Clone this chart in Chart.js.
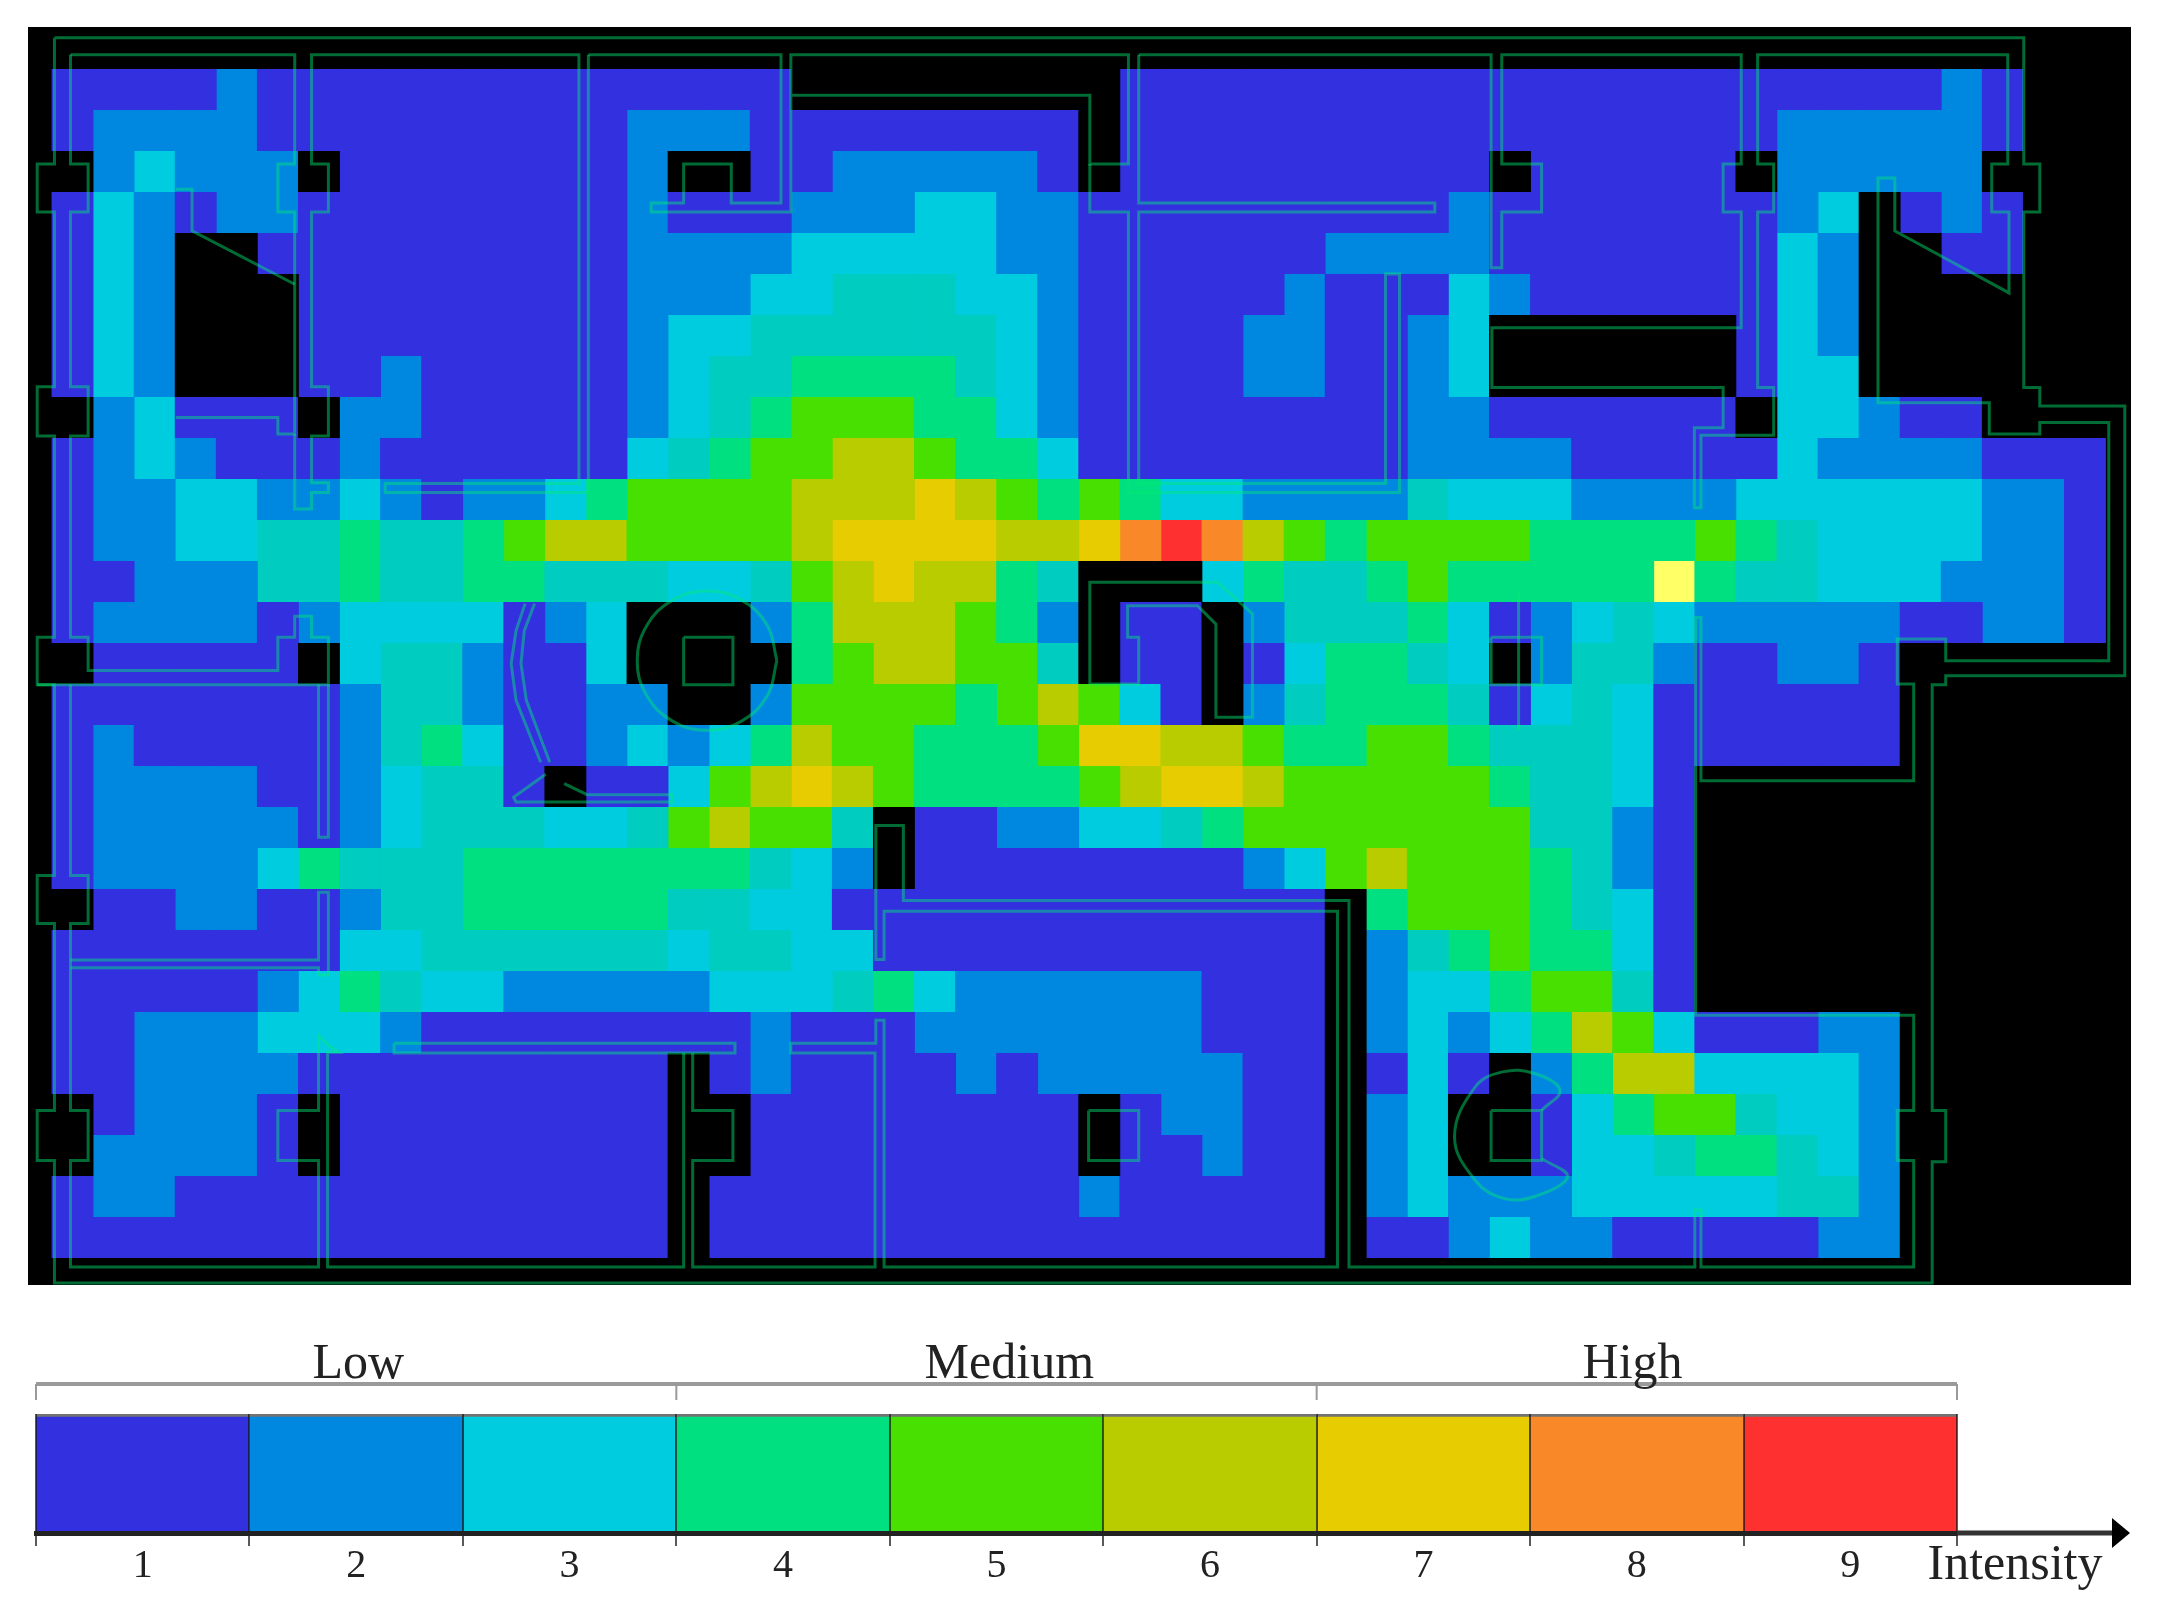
<!DOCTYPE html>
<html>
<head>
<meta charset="utf-8">
<title>Intensity map</title>
<script src="https://cdn.jsdelivr.net/npm/chart.js@4"></script>
<style>
  html, body { margin: 0; padding: 0; background: #fff; width: 2166px; height: 1605px; overflow: hidden; }
  canvas { position: absolute; filter: blur(0.7px); }
  #mapChart { left: 28px; top: 27px; background: #000; }
  #scaleChart { left: 0; top: 1290px; }
</style>
</head>
<body>
<canvas id="mapChart" width="2103" height="1258"></canvas>
<canvas id="scaleChart" width="2166" height="315"></canvas>
<script>
// T = the teal step between 3 and 4, Y = the single pale yellow hot spot, 0 = no signal
const T = 3.5, Y = 10;

const row00 = [1,1,1,1,2,1,1,1,1,1, 1,1,1,1,1,1,1,1,0,0, 0,0,0,0,0,0,1,1,1,1, 1,1,1,1,1,1,1,1,1,1, 1,1,1,1,1,1,2,1,0,0];
const row01 = [1,2,2,2,2,1,1,1,1,1, 1,1,1,1,2,2,2,1,1,1, 1,1,1,1,1,0,1,1,1,1, 1,1,1,1,1,1,1,1,1,1, 1,1,2,2,2,2,2,1,0,0];
const row02 = [0,2,3,2,2,2,0,1,1,1, 1,1,1,1,2,0,0,1,1,2, 2,2,2,2,1,0,1,1,1,1, 1,1,1,1,1,0,1,1,1,1, 1,0,2,2,2,2,2,0,0,0];
const row03 = [1,3,2,1,2,2,1,1,1,1, 1,1,1,1,2,1,1,1,2,2, 2,3,3,2,2,1,1,1,1,1, 1,1,1,1,2,1,1,1,1,1, 1,1,2,3,0,1,2,1,0,0];
const row04 = [1,3,2,0,0,1,1,1,1,1, 1,1,1,1,2,2,2,2,3,3, 3,3,3,2,2,1,1,1,1,1, 1,2,2,2,2,1,1,1,1,1, 1,1,3,2,0,0,1,1,0,0];
const row05 = [1,3,2,0,0,0,1,1,1,1, 1,1,1,1,2,2,2,3,3,T, T,T,3,3,2,1,1,1,1,1, 2,1,1,1,3,2,1,1,1,1, 1,1,3,2,0,0,0,0,0,0];
const row06 = [1,3,2,0,0,0,1,1,1,1, 1,1,1,1,2,3,3,T,T,T, T,T,T,3,2,1,1,1,1,2, 2,1,1,2,3,0,0,0,0,0, 0,1,3,2,0,0,0,0,0,0];
const row07 = [1,3,2,0,0,0,1,1,2,1, 1,1,1,1,2,3,T,T,4,4, 4,4,T,3,2,1,1,1,1,2, 2,1,1,2,3,0,0,0,0,0, 0,1,3,3,0,0,0,0,0,0];
const row08 = [0,2,3,1,1,1,0,2,2,1, 1,1,1,1,2,3,T,4,5,5, 5,4,4,3,2,1,1,1,1,1, 1,1,1,2,2,1,1,1,1,1, 1,0,3,3,2,1,1,0,0,0];
const row09 = [1,2,3,2,1,1,1,2,1,1, 1,1,1,1,3,T,4,5,5,6, 6,5,4,4,3,1,1,1,1,1, 1,1,1,2,2,2,2,1,1,1, 1,1,3,2,2,2,2,1,1,1];
const row10 = [1,2,2,3,3,2,2,3,2,1, 2,2,3,4,5,5,5,5,6,6, 6,7,6,5,4,5,4,3,3,2, 2,2,2,T,3,3,3,2,2,2, 2,3,3,3,3,3,3,2,2,1];
const row11 = [1,2,2,3,3,T,T,4,T,T, 4,5,6,6,5,5,5,5,6,7, 7,7,7,6,6,7,8,9,8,6, 5,4,5,5,5,5,4,4,4,4, 5,4,T,3,3,3,3,2,2,1];
const row12 = [1,1,2,2,2,T,T,4,T,T, 4,4,T,T,T,3,3,T,5,6, 7,6,6,4,T,0,0,0,3,4, T,T,4,5,4,4,4,4,4,Y, 4,T,T,3,3,3,2,2,2,1];
const row13 = [1,2,2,2,2,1,2,3,3,3, 3,1,2,3,0,0,0,2,4,6, 6,6,5,4,2,0,1,1,0,2, T,T,T,4,3,1,2,3,T,3, 2,2,2,2,2,1,1,2,2,1];
const row14 = [0,1,1,1,1,1,0,3,T,T, 2,1,1,3,0,0,0,0,4,5, 6,6,5,5,T,0,1,1,0,1, 3,4,4,T,3,0,2,T,T,2, 1,1,2,2,1,0,0,0,0,0];
const row15 = [1,1,1,1,1,1,1,2,T,T, 2,1,1,2,2,0,0,2,5,5, 5,5,4,5,6,5,3,1,0,2, T,4,4,4,T,1,3,T,3,1, 1,1,1,1,1,0,0,0,0,0];
const row16 = [1,2,1,1,1,1,1,2,T,4, 3,1,1,2,3,2,3,4,6,5, 5,4,4,4,5,7,7,6,6,5, 4,4,5,5,4,T,T,T,3,1, 1,1,1,1,1,0,0,0,0,0];
const row17 = [1,2,2,2,2,1,1,2,3,T, T,1,0,1,1,3,5,6,7,6, 5,4,4,4,4,5,6,7,7,6, 5,5,5,5,5,4,T,T,3,1, 0,0,0,0,0,0,0,0,0,0];
const row18 = [1,2,2,2,2,2,1,2,3,T, T,T,3,3,T,5,6,5,5,T, 0,1,1,2,2,3,3,T,4,5, 5,5,5,5,5,5,T,T,2,1, 0,0,0,0,0,0,0,0,0,0];
const row19 = [1,2,2,2,2,3,4,T,T,T, 4,4,4,4,4,4,4,T,3,2, 0,1,1,1,1,1,1,1,1,2, 3,5,6,5,5,5,4,T,2,1, 0,0,0,0,0,0,0,0,0,0];
const row20 = [0,1,1,2,2,1,1,2,T,T, 4,4,4,4,4,T,T,3,3,1, 1,1,1,1,1,1,1,1,1,1, 1,0,4,5,5,5,4,T,3,1, 0,0,0,0,0,0,0,0,0,0];
const row21 = [1,1,1,1,1,1,1,3,3,T, T,T,T,T,T,3,T,T,3,3, 1,1,1,1,1,1,1,1,1,1, 1,0,2,T,4,5,4,4,3,1, 0,0,0,0,0,0,0,0,0,0];
const row22 = [1,1,1,1,1,2,3,4,T,3, 3,2,2,2,2,2,3,3,3,T, 4,3,2,2,2,2,2,2,1,1, 1,0,2,3,3,4,5,5,T,1, 0,0,0,0,0,0,0,0,0,0];
const row23 = [1,1,2,2,2,3,3,3,2,1, 1,1,1,1,1,1,1,2,1,1, 1,2,2,2,2,2,2,2,1,1, 1,0,2,3,2,3,4,6,5,3, 1,1,1,2,2,0,0,0,0,0];
const row24 = [1,1,2,2,2,2,1,1,1,1, 1,1,1,1,1,0,1,2,1,1, 1,1,2,1,2,2,2,2,2,1, 1,0,1,3,1,0,2,4,6,6, 3,3,3,3,2,0,0,0,0,0];
const row25 = [0,1,2,2,2,1,0,1,1,1, 1,1,1,1,1,0,0,1,1,1, 1,1,1,1,1,0,1,2,2,1, 1,0,2,3,0,0,1,3,4,5, 5,T,3,3,2,0,0,0,0,0];
const row26 = [0,2,2,2,2,1,0,1,1,1, 1,1,1,1,1,0,0,1,1,1, 1,1,1,1,1,0,1,1,2,1, 1,0,2,3,0,0,1,3,3,T, 4,4,T,3,2,0,0,0,0,0];
const row27 = [1,2,2,1,1,1,1,1,1,1, 1,1,1,1,1,0,1,1,1,1, 1,1,1,1,1,2,1,1,1,1, 1,0,2,3,2,2,2,3,3,3, 3,3,T,T,2,0,0,0,0,0];
const row28 = [1,1,1,1,1,1,1,1,1,1, 1,1,1,1,1,0,1,1,1,1, 1,1,1,1,1,1,1,1,1,1, 1,0,1,1,2,3,2,2,1,1, 1,1,1,2,2,0,0,0,0,0];
const heatRows = [row00,row01,row02,row03,row04,row05,row06,row07,row08,row09,row10,row11,row12,row13,row14,
                  row15,row16,row17,row18,row19,row20,row21,row22,row23,row24,row25,row26,row27,row28];

const levels = [0, 1, 2, 3, T, 4, 5, 6, 7, 8, 9, Y];
const levelColors = ['#000000','#3330E0','#0088E0','#00CCE0','#00CCC0','#00E080','#48E000','#B8CC00','#E6CC00','#F88828','#FF3030','#FFFF66'];

// floor plan outlines, in grid cells (x, y pairs)
const wallOuter = [0.06,-0.76, 0.06,2.32, -0.36,2.32, -0.36,3.49, 0.06,3.49, 0.06,7.75, -0.36,7.75, -0.36,8.95, 0.06,8.95, 0.06,13.86, -0.36,13.86, -0.36,15.02, 0.06,15.02, 0.06,19.67, -0.36,19.67, -0.36,20.84, 0.06,20.84, 0.06,25.4, -0.36,25.4, -0.36,26.62, 0.06,26.62, 0.06,29.61, 45.78,29.61, 45.78,26.65, 46.11,26.65, 46.11,25.4, 45.78,25.4, 45.78,15.02, 46.11,15.02, 46.11,14.8, 50.47,14.8, 50.47,8.22, 48.4,8.22, 48.4,7.77, 48.01,7.77, 48.01,3.49, 48.4,3.49, 48.4,2.32, 48.01,2.32, 48.01,-0.76, 0.06,-0.76];
const wallRoomA = [0.45,-0.35, 5.91,-0.35, 5.91,2.32, 5.5,2.32, 5.5,3.49, 5.91,3.49, 5.91,8.9, 5.5,8.9, 5.5,8.5, 3.02,8.5];
const wallDiagA = [3.02,2.93, 3.41,2.93, 3.41,3.95, 5.91,5.25];
const wallLeft = [0.45,-0.35, 0.45,2.32, 0.88,2.32, 0.88,3.49, 0.45,3.49, 0.45,7.75, 0.88,7.75, 0.88,8.95, 0.45,8.95, 0.45,13.86, 0.88,13.86, 0.88,14.67, 5.5,14.67, 5.5,13.86, 5.91,13.86, 5.91,13.35, 6.32,13.35, 6.32,13.86, 6.73,13.86, 6.73,15.02, -0.36,15.02];
const wallRoomB = [5.91,8.9, 5.91,10.73, 6.32,10.73, 6.32,10.33, 6.73,10.33, 6.73,10.09, 6.32,10.09, 6.32,8.95, 6.73,8.95, 6.73,7.75, 6.32,7.75, 6.32,3.49, 6.73,3.49, 6.73,2.32, 6.32,2.32, 6.32,-0.35, 12.83,-0.35, 12.83,10.11, 8.11,10.11, 8.11,10.33, 13.06,10.33, 13.06,-0.35];
const wallTopMid = [13.06,-0.35, 17.75,-0.35, 17.75,3.27, 16.54,3.27, 16.54,2.32, 15.38,2.32, 15.38,3.27, 14.59,3.27, 14.59,3.49, 17.99,3.49, 17.99,-0.35, 26.21,-0.35, 26.21,2.32, 25.27,2.32, 25.27,0.64, 17.99,0.64];
const wallMidDrop = [25.27,2.32, 25.27,3.49, 26.21,3.49, 26.21,10.33, 32.81,10.33, 32.81,5.0, 32.47,5.0, 32.47,10.11, 26.46,10.11, 26.46,3.49, 33.67,3.49, 33.67,3.27, 26.46,3.27, 26.46,-0.35];
const wallRight = [26.46,-0.35, 35.04,-0.35, 35.04,4.85, 35.3,4.85, 35.3,3.49, 36.27,3.49, 36.27,2.32, 35.3,2.32, 35.3,-0.35, 41.13,-0.35, 41.13,2.32, 40.69,2.32, 40.69,3.49, 41.13,3.49, 41.13,6.31, 35.06,6.31, 35.06,7.77, 40.69,7.77, 40.69,8.75, 39.99,8.75, 39.99,10.7, 40.15,10.7, 40.15,8.93, 41.92,8.93, 41.92,7.77, 41.53,7.77, 41.53,3.49, 41.92,3.49, 41.92,2.32, 41.53,2.32, 41.53,-0.35, 47.62,-0.35, 47.62,2.32, 47.23,2.32, 47.23,3.49, 47.65,3.49, 47.65,5.46, 44.87,3.95, 44.87,2.66, 44.46,2.66, 44.46,8.14, 47.17,8.14, 47.17,8.9, 48.4,8.9, 48.4,8.62, 50.08,8.62, 50.08,14.43, 46.11,14.43, 46.11,13.9, 44.93,13.9, 44.93,15.0, 45.33,15.0, 45.33,17.36, 40.15,17.36, 40.15,13.38, 40.02,13.38, 40.02,23.08, 45.33,23.08, 45.33,25.4, 44.93,25.4, 44.93,26.62, 45.33,26.62, 45.33,29.22, 40.15,29.22, 40.15,27.83, 40.0,27.83, 40.0,29.22, 31.58,29.22, 31.58,20.28, 20.73,20.28, 20.73,18.45, 20.06,18.45, 20.06,21.72, 20.26,21.72, 20.26,20.54, 31.3,20.54, 31.3,29.22, 20.26,29.22, 20.26,23.2, 20.06,23.2, 20.06,23.76, 17.99,23.76, 17.99,24.0, 20.04,24.0, 20.04,29.22, 15.6,29.22, 15.6,26.62, 16.58,26.62, 16.58,25.4, 15.6,25.4, 15.6,24.0];
const wallLowerLeft = [0.45,15.02, 0.45,19.67, 0.88,19.67, 0.88,20.84, 0.45,20.84, 0.45,25.4, 0.88,25.4, 0.88,26.62, 0.45,26.62, 0.45,29.22, 6.49,29.22, 6.49,26.62, 5.5,26.62, 5.5,25.4, 6.49,25.4, 6.49,23.57, 6.73,23.81, 6.99,23.98, 6.71,23.98, 6.71,29.22, 15.38,29.22, 15.38,24.0];
const wallStub = [6.49,15.02, 6.49,18.74, 6.73,18.74, 6.73,15.02];
const wallCrossA = [0.45,21.73, 6.49,21.73, 6.49,20.08, 6.73,20.08, 6.73,22.1, 6.49,22.1, 6.49,21.92, 0.45,21.92];
const wallCrossB = [8.33,23.76, 16.63,23.76, 16.63,24.0, 8.33,24.0, 8.33,23.76];
const wallCentreRoom = [25.27,15.0, 25.27,12.52, 28.39,12.52, 29.23,13.29, 29.23,15.81, 28.34,15.81, 28.34,13.54, 27.89,13.09, 26.19,13.09, 26.19,13.86, 26.46,13.86, 26.46,15.0, 25.27,15.0];
const wallPillarA = [15.38,13.86, 16.58,13.86, 16.58,15.02, 15.38,15.02, 15.38,13.86];
const wallPillarB = [25.24,25.4, 26.46,25.4, 26.46,26.62, 25.24,26.62, 25.24,25.4];
const wallPillarC = [35.04,13.86, 36.27,13.86, 36.27,15.02, 35.04,15.02, 35.04,13.86];
const wallPillarD = [35.04,25.4, 36.27,25.4, 36.27,26.62, 35.04,26.62, 35.04,25.4];
const wallPost = [35.71,12.73, 35.71,16.14];
const wallDoorA = [11.52,13.04, 11.3,13.7, 11.18,14.5, 11.3,15.4, 11.9,16.91];
const wallDoorB = [11.75,13.04, 11.5,13.7, 11.42,14.5, 11.55,15.4, 12.12,16.91];
const wallDoorC = [12.02,17.2, 11.24,17.76, 11.3,17.88, 15.1,17.88, 15.1,17.7, 13.03,17.7, 12.47,17.43];
const wallRing = [17.65,14.43, 17.42,15.28, 16.8,15.9, 15.95,16.13, 15.1,15.9, 14.48,15.28, 14.25,14.43, 14.48,13.58, 15.1,12.96, 15.95,12.73, 16.8,12.96, 17.42,13.58, 17.65,14.43];
const wallStair = [36.27,25.4, 36.72,24.91, 36.1,24.5, 35.32,24.46, 34.65,24.83, 34.15,26.05, 34.65,27.1, 35.32,27.54, 36.1,27.5, 36.9,27.02, 36.27,26.57];
const wallPaths = [wallOuter,wallRoomA,wallDiagA,wallLeft,wallRoomB,wallTopMid,wallMidDrop,wallRight,wallLowerLeft,wallStub,wallCrossA,wallCrossB,
                   wallCentreRoom,wallPillarA,wallPillarB,wallPillarC,wallPillarD,wallPost,wallDoorA,wallDoorB,wallDoorC];
const wallCurves = [wallRing, wallStair];

// colour scale under the map
const scaleLabels = ['1','2','3','4','5','6','7','8','9'];
const scaleValues = [1,1,1,1,1,1,1,1,1];
const scaleColors = ['#3330E0','#0088E0','#00CCE0','#00E080','#48E000','#B8CC00','#E6CC00','#F88828','#FF3030'];
const bandLabels = ['Low','Medium','High'];
const bandEdges = [0,3,6,9];
const bandCentres = [1.51,4.56,7.48];

const WALL = 'rgba(0,235,115,0.46)';

function toPoints(flat) {
  const pts = [];
  for (let i = 0; i < flat.length; i += 2) pts.push({ x: flat[i], y: flat[i + 1] });
  return pts;
}

const heatSets = levels.map(function (lv, i) {
  const cells = [];
  heatRows.forEach(function (row, r) {
    row.forEach(function (v, c) {
      if (v === lv) cells.push({ x: c + 0.5, y: [r, r + 1] });
    });
  });
  return {
    type: 'bar', data: cells, backgroundColor: levelColors[i], borderWidth: 0,
    grouped: false, barPercentage: 1.02, categoryPercentage: 1, order: 2
  };
});

function wallSet(flat, tension) {
  return {
    type: 'line', data: toPoints(flat), borderColor: WALL, borderWidth: 3, tension: tension,
    pointRadius: 0, fill: false, order: 1
  };
}
const wallSets = wallPaths.map(function (p) { return wallSet(p, 0); })
  .concat(wallCurves.map(function (p) { return wallSet(p, 0.4); }));

new Chart(document.getElementById('mapChart'), {
  type: 'bar',
  data: { datasets: heatSets.concat(wallSets) },
  options: {
    responsive: false,
    animation: false,
    devicePixelRatio: 1,
    layout: { padding: 0 },
    plugins: { legend: { display: false }, tooltip: { enabled: false }, title: { display: false } },
    scales: {
      x: { type: 'linear', display: false, offset: false, min: -0.584, max: 50.621 },
      y: { type: 'linear', display: false, reverse: true, min: -1.0244, max: 29.6586 }
    }
  }
});

// brackets, Low/Medium/High, arrow head and axis name
const scaleDecor = {
  id: 'scaleDecor',
  afterDraw(chart) {
    const ctx = chart.ctx, xs = chart.scales.x;
    const cell = xs.width / scaleLabels.length;
    const top = 94, drop = 110;
    ctx.save();
    ctx.strokeStyle = '#9a9a9a';
    ctx.lineWidth = 4;
    ctx.beginPath();
    ctx.moveTo(xs.left, top);
    ctx.lineTo(xs.right, top);
    ctx.stroke();
    ctx.lineWidth = 2;
    bandEdges.forEach(function (e) {
      const px = xs.left + e * cell;
      ctx.beginPath();
      ctx.moveTo(px, top);
      ctx.lineTo(px, drop);
      ctx.stroke();
    });
    ctx.fillStyle = '#222';
    ctx.font = '50px "Liberation Serif"';
    ctx.textAlign = 'center';
    ctx.textBaseline = 'alphabetic';
    bandLabels.forEach(function (t, i) {
      ctx.fillText(t, xs.left + bandCentres[i] * cell, 88);
    });
    // axis runs past the last bar into the arrow
    const y = xs.top;
    ctx.strokeStyle = '#333';
    ctx.lineWidth = 5;
    ctx.beginPath();
    ctx.moveTo(xs.right, y);
    ctx.lineTo(2114, y);
    ctx.stroke();
    ctx.fillStyle = '#000';
    ctx.beginPath();
    ctx.moveTo(2112, y - 15);
    ctx.lineTo(2130, y);
    ctx.lineTo(2112, y + 15);
    ctx.closePath();
    ctx.fill();
    ctx.fillStyle = '#222';
    ctx.fillText('Intensity', 2015, 289);
    ctx.restore();
  }
};

new Chart(document.getElementById('scaleChart'), {
  type: 'bar',
  data: {
    labels: scaleLabels,
    datasets: [{
      data: scaleValues,
      backgroundColor: scaleColors,
      borderColor: 'rgba(0,0,0,0.55)',
      borderWidth: { top: 3 },
      borderSkipped: false,
      barPercentage: 1,
      categoryPercentage: 1
    }]
  },
  options: {
    responsive: false,
    animation: false,
    devicePixelRatio: 1,
    layout: { padding: { left: 36, right: 209, top: 124, bottom: 0 } },
    plugins: { legend: { display: false }, tooltip: { enabled: false }, title: { display: false } },
    scales: {
      x: {
        afterFit(scale) { scale.height = 72; },
        // border has to come after the grid layer or it lands at y=0
        border: { display: true, color: '#222', width: 5, z: 1 },
        grid: { color: 'rgba(20,20,20,0.7)', lineWidth: 2, tickLength: 13, z: 1 },
        ticks: { color: '#222', padding: -4, maxRotation: 0, font: { family: '"Liberation Serif"', size: 40 } }
      },
      y: { display: false, min: 0, max: 1 }
    }
  },
  plugins: [scaleDecor]
});
</script>
</body>
</html>
